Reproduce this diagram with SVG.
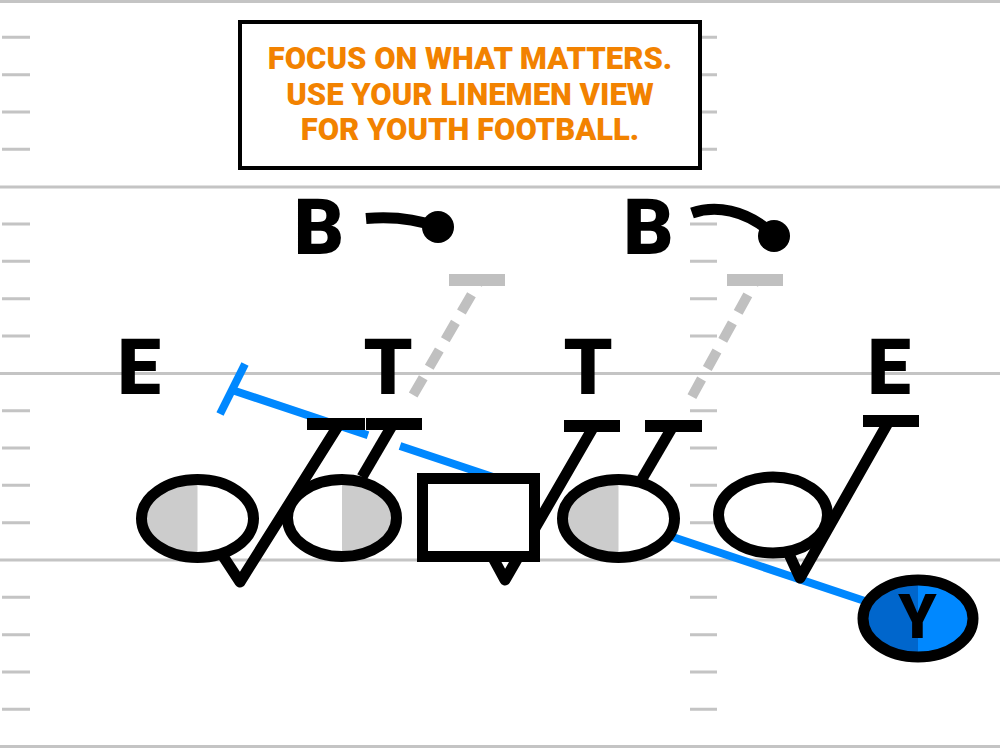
<svg xmlns="http://www.w3.org/2000/svg" width="1000" height="750" viewBox="0 0 1000 750">
<style>
.fl{stroke:#c4c4c4;stroke-width:3;fill:none}
.blk{stroke:#000;stroke-width:11;fill:none;stroke-linejoin:round}
.bar{stroke:#000;stroke-width:12;fill:none}
.gdash{stroke:#c0c0c0;stroke-width:10;fill:none;stroke-dasharray:20 12}
.gbar{stroke:#c0c0c0;stroke-width:12}
.route{stroke:#0088ff;stroke-width:8;fill:none}
.lbl{font-family:Roboto,"Liberation Sans",sans-serif;font-weight:900;fill:#000;text-anchor:middle}
.msg{font-family:Roboto,"Liberation Sans",sans-serif;font-weight:900;fill:#f28200;text-anchor:middle;font-size:31px}
.ol{fill:none;stroke:#000;stroke-width:11}
</style>
<rect width="1000" height="750" fill="#fff"/>
<g id="field">
<path class="fl" d="M0,1.5H1000M0,187H1000M0,373.5H1000M0,560H1000M0,746.5H1000"/>
<path class="fl" d="M2,37.3H30M2,74.7H30M2,112H30M2,149.3H30M2,224H30M2,261.3H30M2,298.7H30M2,336H30M2,410.7H30M2,448H30M2,485.3H30M2,522.7H30M2,597.3H30M2,634.7H30M2,672H30M2,709.3H30"/>
<path class="fl" d="M690,37.3H717M690,74.7H717M690,112H717M690,149.3H717M690,224H717M690,261.3H717M690,298.7H717M690,336H717M690,410.7H717M690,448H717M690,485.3H717M690,522.7H717M690,597.3H717M690,634.7H717M690,672H717M690,709.3H717"/>
</g>
<g id="title">
<rect x="240" y="22" width="460" height="146" fill="#fff" stroke="#000" stroke-width="4"/>
<text class="msg" x="470" y="69">FOCUS ON WHAT MATTERS.</text>
<text class="msg" x="470" y="104.5">USE YOUR LINEMEN VIEW</text>
<text class="msg" x="470" y="140">FOR YOUTH FOOTBALL.</text>
</g>
<g id="connectors">
<path class="route" d="M232,390L368,435.3M400,446L505,481M600,512.7L870,602.7"/>
<path class="route" d="M220,414L245,364"/>
<line class="gbar" x1="449" y1="280" x2="505" y2="280"/>
<path class="gdash" d="M480,280L412,397" stroke-dashoffset="15"/>
<line class="gbar" x1="727" y1="280" x2="783" y2="280"/>
<path class="gdash" d="M756,280L690,400" stroke-dashoffset="15"/>
<path d="M366,218.5Q405,215 438,227" stroke="#000" stroke-width="11" fill="none"/>
<circle cx="438" cy="227" r="16" fill="#000"/>
<path d="M692,213C715,205 745,209 773,234" stroke="#000" stroke-width="11" fill="none"/>
<circle cx="774" cy="236" r="16" fill="#000"/>
<polyline class="blk" points="221,553 240,582 338,426"/>
<line class="blk" x1="393" y1="424" x2="362" y2="477"/>
<polyline class="blk" points="492,556 505,580 594,426"/>
<line class="blk" x1="673" y1="426" x2="642" y2="479"/>
<polyline class="blk" points="788,552 800,578 889,421"/>
<line class="bar" x1="307" y1="424" x2="365" y2="424"/>
<line class="bar" x1="366" y1="424" x2="422" y2="424"/>
<line class="bar" x1="564" y1="426" x2="620" y2="426"/>
<line class="bar" x1="645" y1="426" x2="702" y2="426"/>
<line class="bar" x1="863" y1="421" x2="919" y2="421"/>
</g>
<g id="lineman1">
<ellipse cx="197.5" cy="518.5" rx="56" ry="39" fill="#fff"/>
<path d="M197.5,479.5A56,39 0 0 0 197.5,557.5Z" fill="#cccccc"/>
<ellipse class="ol" cx="197.5" cy="518.5" rx="56" ry="39"/>
</g>
<g id="lineman2">
<ellipse cx="342" cy="518" rx="54.5" ry="38.5" fill="#fff"/>
<path d="M342,479.5A54.5,38.5 0 0 1 342,556.5Z" fill="#cccccc"/>
<ellipse class="ol" cx="342" cy="518" rx="54.5" ry="38.5"/>
</g>
<g id="center">
<rect x="422.5" y="478.5" width="112" height="78" fill="#fff" stroke="#000" stroke-width="11"/>
</g>
<g id="lineman3">
<ellipse cx="618.5" cy="518.5" rx="56" ry="39" fill="#fff"/>
<path d="M618.5,479.5A56,39 0 0 0 618.5,557.5Z" fill="#cccccc"/>
<ellipse class="ol" cx="618.5" cy="518.5" rx="56" ry="39"/>
</g>
<g id="lineman4">
<ellipse cx="773" cy="515" rx="54.5" ry="38" fill="#fff"/>
<ellipse class="ol" cx="773" cy="515" rx="54.5" ry="38"/>
</g>
<g id="Y">
<ellipse cx="918" cy="618.5" rx="55" ry="38.5" fill="#0088ff"/>
<path d="M918,580A55,38.5 0 0 0 918,657Z" fill="#0066cc"/>
<ellipse class="ol" cx="918" cy="618.5" rx="55" ry="38.5"/>
<text class="lbl" x="917.5" y="638" font-size="61">Y</text>
</g>
<g id="B1"><text class="lbl" x="319" y="254" font-size="78">B</text></g>
<g id="B2"><text class="lbl" x="648.5" y="254" font-size="78">B</text></g>
<g id="E1"><text class="lbl" x="139" y="394" font-size="78">E</text></g>
<g id="T1"><text class="lbl" x="388" y="394" font-size="78">T</text></g>
<g id="T2"><text class="lbl" x="588" y="394" font-size="78">T</text></g>
<g id="E2"><text class="lbl" x="889" y="394" font-size="78">E</text></g>
</svg>
